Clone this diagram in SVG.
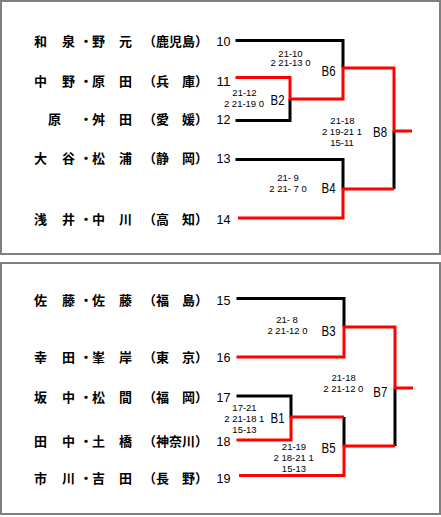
<svg xmlns="http://www.w3.org/2000/svg" width="441" height="517" viewBox="0 0 441 517">
<style>
.frame{fill:#fff;stroke:#808080;stroke-width:2}
.nm{font-family:"Noto Sans CJK JP","Noto Sans CJK SC",sans-serif;font-size:13px;font-weight:bold;fill:#000}
.num{font-family:"Liberation Sans",Arial,sans-serif;font-size:13.5px;fill:#000}
.b{font-family:"Liberation Sans",Arial,sans-serif;font-size:14px;fill:#000}
.sc{font-family:"Liberation Sans",Arial,sans-serif;font-size:9.5px;fill:#000;text-anchor:middle}
.k{stroke:#000;stroke-width:3;fill:none;stroke-linejoin:miter}
.r{stroke:#f00;stroke-width:3;fill:none;stroke-linejoin:miter}
</style>
<rect width="441" height="517" fill="#fff"/>
<rect class="frame" x="1" y="1" width="439" height="253"/>
<rect class="frame" x="1" y="263" width="439" height="251"/>

<g id="connectors">
  <path class="k" d="M235.5,40.5 H343 V68"/>
  <path class="k" d="M235.5,120.5 H290 V99"/>
  <path class="k" d="M235.5,159.5 H343 V189"/>
  <path class="k" d="M394,189 V131"/>
  <path class="r" d="M235.5,77.5 H290 V99 H343 V68 H394 V131 H412"/>
  <path class="r" d="M238,218 H343 V189 H394"/>
  <path class="k" d="M236.5,298.5 H344 V327"/>
  <path class="k" d="M236.5,396 H291 V417"/>
  <path class="k" d="M344,417 V446"/>
  <path class="k" d="M395,446 V388"/>
  <path class="r" d="M236.5,357 H344 V327 H395 V388 H413"/>
  <path class="r" d="M236.5,440 H291 V417 H344"/>
  <path class="r" d="M239,475.5 H344 V446 H395"/>
</g>

<g id="p10">
  <text class="nm" x="34 48 62 79.5 92 106 119" y="46">和　泉・野　元</text>
  <text class="nm" x="143" y="46">（鹿児島）</text>
  <text class="num" x="216.5" y="46" textLength="14" lengthAdjust="spacingAndGlyphs">10</text>
</g>
<g id="p11">
  <text class="nm" x="34 48 62 79.5 92 106 119" y="85.5">中　野・原　田</text>
  <text class="nm" x="143" y="85.5">（兵　庫）</text>
  <text class="num" x="216.5" y="85.5" textLength="14" lengthAdjust="spacingAndGlyphs">11</text>
</g>
<g id="p12">
  <text class="nm" x="34 48 62 79.5 92 106 119" y="124">　原　・舛　田</text>
  <text class="nm" x="143" y="124">（愛　媛）</text>
  <text class="num" x="216.5" y="124" textLength="14" lengthAdjust="spacingAndGlyphs">12</text>
</g>
<g id="p13">
  <text class="nm" x="34 48 62 79.5 92 106 119" y="163">大　谷・松　浦</text>
  <text class="nm" x="143" y="163">（静　岡）</text>
  <text class="num" x="216.5" y="163" textLength="14" lengthAdjust="spacingAndGlyphs">13</text>
</g>
<g id="p14">
  <text class="nm" x="34 48 62 79.5 92 106 119" y="223.5">浅　井・中　川</text>
  <text class="nm" x="143" y="223.5">（高　知）</text>
  <text class="num" x="216.5" y="223.5" textLength="14" lengthAdjust="spacingAndGlyphs">14</text>
</g>

<g id="p15">
  <text class="nm" x="34 48 62 79.5 92 106 119" y="305">佐　藤・佐　藤</text>
  <text class="nm" x="143" y="305">（福　島）</text>
  <text class="num" x="216.5" y="305" textLength="14" lengthAdjust="spacingAndGlyphs">15</text>
</g>
<g id="p16">
  <text class="nm" x="34 48 62 79.5 92 106 119" y="361.5">幸　田・峯　岸</text>
  <text class="nm" x="143" y="361.5">（東　京）</text>
  <text class="num" x="216.5" y="361.5" textLength="14" lengthAdjust="spacingAndGlyphs">16</text>
</g>
<g id="p17">
  <text class="nm" x="34 48 62 79.5 92 106 119" y="402">坂　中・松　間</text>
  <text class="nm" x="143" y="402">（福　岡）</text>
  <text class="num" x="216.5" y="402" textLength="14" lengthAdjust="spacingAndGlyphs">17</text>
</g>
<g id="p18">
  <text class="nm" x="34 48 62 79.5 92 106 119" y="445.5">田　中・土　橋</text>
  <text class="nm" x="143" y="445.5">（神奈川）</text>
  <text class="num" x="216.5" y="445.5" textLength="14" lengthAdjust="spacingAndGlyphs">18</text>
</g>
<g id="p19">
  <text class="nm" x="34 48 62 79.5 92 106 119" y="483">市　川・吉　田</text>
  <text class="nm" x="143" y="483">（長　野）</text>
  <text class="num" x="216.5" y="483" textLength="14" lengthAdjust="spacingAndGlyphs">19</text>
</g>

<g id="B2">
  <text class="b" x="270.5" y="105" textLength="14" lengthAdjust="spacingAndGlyphs">B2</text>
  <text class="sc" x="244.5" y="96" xml:space="preserve">21-12</text>
  <text class="sc" x="244" y="107" xml:space="preserve">2 21-19 0</text>
</g>
<g id="B6">
  <text class="b" x="321.5" y="76" textLength="14" lengthAdjust="spacingAndGlyphs">B6</text>
  <text class="sc" x="290.5" y="56.5" xml:space="preserve">21-10</text>
  <text class="sc" x="290.5" y="66" xml:space="preserve">2 21-13 0</text>
</g>
<g id="B4">
  <text class="b" x="321.5" y="193" textLength="14" lengthAdjust="spacingAndGlyphs">B4</text>
  <text class="sc" x="288" y="181" xml:space="preserve">21- 9</text>
  <text class="sc" x="288" y="192" xml:space="preserve">2 21- 7 0</text>
</g>
<g id="B8">
  <text class="b" x="373" y="137" textLength="14" lengthAdjust="spacingAndGlyphs">B8</text>
  <text class="sc" x="342.5" y="124" xml:space="preserve">21-18</text>
  <text class="sc" x="342" y="135" xml:space="preserve">2 19-21 1</text>
  <text class="sc" x="342" y="146" xml:space="preserve">15-11</text>
</g>
<g id="B3">
  <text class="b" x="321.5" y="335.5" textLength="14" lengthAdjust="spacingAndGlyphs">B3</text>
  <text class="sc" x="287" y="322.5" xml:space="preserve">21- 8</text>
  <text class="sc" x="287.5" y="333.5" xml:space="preserve">2 21-12 0</text>
</g>
<g id="B1">
  <text class="b" x="270.5" y="423" textLength="14" lengthAdjust="spacingAndGlyphs">B1</text>
  <text class="sc" x="244.5" y="411" xml:space="preserve">17-21</text>
  <text class="sc" x="244.3" y="422" xml:space="preserve">2 21-18 1</text>
  <text class="sc" x="244.5" y="433" xml:space="preserve">15-13</text>
</g>
<g id="B5">
  <text class="b" x="321.5" y="453" textLength="14" lengthAdjust="spacingAndGlyphs">B5</text>
  <text class="sc" x="294" y="450" xml:space="preserve">21-19</text>
  <text class="sc" x="293.7" y="461" xml:space="preserve">2 18-21 1</text>
  <text class="sc" x="294" y="472" xml:space="preserve">15-13</text>
</g>
<g id="B7">
  <text class="b" x="373.3" y="396.5" textLength="14" lengthAdjust="spacingAndGlyphs">B7</text>
  <text class="sc" x="343.7" y="381" xml:space="preserve">21-18</text>
  <text class="sc" x="343.3" y="392" xml:space="preserve">2 21-12 0</text>
</g>
</svg>
